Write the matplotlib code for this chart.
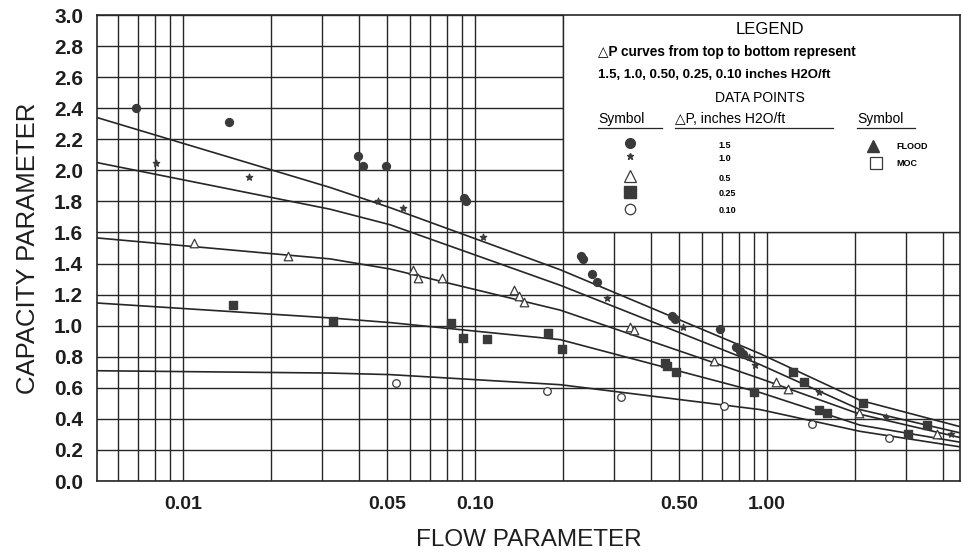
import numpy as np
import matplotlib
matplotlib.use("Agg")
import matplotlib.pyplot as plt
from matplotlib.ticker import LogLocator, FixedLocator, NullFormatter
from matplotlib.patches import Rectangle

plt.rcParams['font.family'] = ['Liberation Sans', 'DejaVu Sans']

# fitted dP curves (inches H2O/ft)
curve_x = [0.00508, 0.0319, 0.0512, 0.196, 0.946, 2.08, 4.58]
curve_15 = [2.34, 1.89, 1.76, 1.36, 0.82, 0.52, 0.35]
curve_10 = [2.05, 1.75, 1.65, 1.26, 0.75, 0.46, 0.31]
curve_05 = [1.565, 1.43, 1.365, 1.10, 0.66, 0.43, 0.28]
curve_025 = [1.146, 1.05, 1.02, 0.91, 0.57, 0.36, 0.25]
curve_010 = [0.71, 0.695, 0.685, 0.62, 0.46, 0.32, 0.22]

# data points
circ_x = [0.0069, 0.0144, 0.0397, 0.0413, 0.0496, 0.0917, 0.0931, 0.231, 0.234,
          0.252, 0.262, 0.473, 0.484, 0.690, 0.783, 0.809, 0.828]
circ_y = [2.40, 2.31, 2.09, 2.03, 2.03, 1.82, 1.80, 1.45, 1.43,
          1.33, 1.28, 1.06, 1.04, 0.98, 0.86, 0.84, 0.82]

star_x = [0.0081, 0.0168, 0.0465, 0.0567, 0.1065, 0.283, 0.516, 0.867, 0.910,
          1.51, 2.56, 4.27]
star_y = [2.05, 1.96, 1.80, 1.76, 1.57, 1.18, 0.99, 0.80, 0.75, 0.57, 0.41, 0.30]

tri_x = [0.0109, 0.0229, 0.0613, 0.0638, 0.0771, 0.136, 0.1415, 0.147, 0.340,
         0.351, 0.658, 1.07, 1.18, 2.07, 3.82]
tri_y = [1.53, 1.45, 1.36, 1.31, 1.31, 1.23, 1.19, 1.15, 0.99,
         0.97, 0.77, 0.64, 0.59, 0.44, 0.30]

sq_x = [0.0148, 0.0326, 0.0828, 0.091, 0.110, 0.178, 0.199, 0.448, 0.455,
        0.488, 0.902, 1.23, 1.34, 1.51, 1.60, 2.13, 3.04, 3.53]
sq_y = [1.13, 1.03, 1.02, 0.92, 0.915, 0.95, 0.85, 0.76, 0.74,
        0.70, 0.57, 0.70, 0.64, 0.46, 0.44, 0.50, 0.30, 0.36]

ocirc_x = [0.0536, 0.177, 0.316, 0.713, 1.43, 2.62]
ocirc_y = [0.63, 0.58, 0.54, 0.48, 0.37, 0.28]

xtick_vals = [0.01, 0.05, 0.10, 0.50, 1.00]
xtick_labels = ['0.01', '0.05', '0.10', '0.50', '1.00']
legend_dp = ['1.5', '1.0', '0.5', '0.25', '0.10']

ink = '#262626'
mk = '#3a3a3a'

fig = plt.figure(figsize=(9.63, 5.52), dpi=100)
ax = fig.add_axes([0.1007, 0.1286, 0.8962, 0.8442])
ax.set_xscale('log')
ax.set_xlim(0.00508, 4.58)
ax.set_ylim(0, 3.0)

# log paper grid
ax.xaxis.set_major_locator(FixedLocator(xtick_vals))
ax.set_xticklabels(xtick_labels)
ax.xaxis.set_minor_locator(LogLocator(base=10, subs=np.arange(1, 10), numticks=20))
ax.xaxis.set_minor_formatter(NullFormatter())
ax.set_yticks(np.arange(0, 3.01, 0.2))
ax.set_yticklabels([f'{v:.1f}' for v in np.arange(0, 3.01, 0.2)])
ax.set_axisbelow(True)
ax.grid(True, which='both', axis='x', color=ink, lw=1.0)
ax.grid(True, which='major', axis='y', color=ink, lw=1.0)
ax.tick_params(which='both', length=0)
ax.tick_params(axis='x', pad=11, labelsize=14)
ax.tick_params(axis='y', pad=10, labelsize=15)
for lab in ax.get_xticklabels() + ax.get_yticklabels():
    lab.set_fontweight('bold')
    lab.set_color('#1e1e1e')
for sp in ax.spines.values():
    sp.set_color(ink)
    sp.set_linewidth(1.2)

# blank legend panel in the top right
ax.add_patch(Rectangle((0.2, 1.6), 10, 2, facecolor='white', edgecolor=ink,
                       lw=1.0, zorder=1))

for cy in [curve_15, curve_10, curve_05, curve_025, curve_010]:
    ax.plot(curve_x, cy, color=ink, lw=1.2, zorder=2)

ax.scatter(circ_x, circ_y, s=32, marker='o', color=mk, zorder=3)
ax.scatter(star_x, star_y, s=22, marker='*', color=mk, zorder=3)
ax.scatter(tri_x, tri_y, s=38, marker='^', facecolor='white', edgecolor=mk, lw=0.9, zorder=3)
ax.scatter(sq_x, sq_y, s=28, marker='s', color=mk, zorder=3)
ax.scatter(ocirc_x, ocirc_y, s=30, marker='o', facecolor='white', edgecolor=mk, lw=0.9, zorder=3)

ax.set_xlabel('FLOW PARAMETER', fontsize=17.5, color='#1e1e1e', labelpad=11)
ax.set_ylabel('CAPACITY PARAMETER', fontsize=18.5, color='#1e1e1e', labelpad=10)

# legend text
tr = ax.transAxes
ax.text(0.780, 0.968, 'LEGEND', transform=tr, ha='center', va='center', fontsize=12)
ax.text(0.5805, 0.921, '\u25b3P curves from top to bottom represent', transform=tr,
        ha='left', va='center', fontsize=9.8, fontweight='bold')
ax.text(0.5805, 0.871, '1.5, 1.0, 0.50, 0.25, 0.10 inches H2O/ft', transform=tr,
        ha='left', va='center', fontsize=9.5, fontweight='bold')
ax.text(0.768, 0.822, 'DATA POINTS', transform=tr, ha='center', va='center', fontsize=10)
ax.text(0.5805, 0.777, 'Symbol', transform=tr, ha='left', va='center', fontsize=10)
ax.text(0.670, 0.777, '\u25b3P, inches H2O/ft', transform=tr, ha='left', va='center',
        fontsize=10)
ax.text(0.881, 0.777, 'Symbol', transform=tr, ha='left', va='center', fontsize=10)
for x0, x1 in [(0.5805, 0.655), (0.670, 0.853), (0.881, 0.948)]:
    ax.plot([x0, x1], [0.758, 0.758], transform=tr, color=ink, lw=0.9, zorder=4)

sym_y = [0.725, 0.697, 0.654, 0.620, 0.584]
sym_style = [dict(marker='o', ms=7, color=mk),
             dict(marker='*', ms=5, color=mk),
             dict(marker='^', ms=8, mfc='white', mec=mk, mew=0.9),
             dict(marker='s', ms=8, color=mk),
             dict(marker='o', ms=7.5, mfc='white', mec=mk, mew=0.9)]
for yy, st, lab in zip(sym_y, sym_style, legend_dp):
    ax.plot([0.6176], [yy], transform=tr, ls='none', zorder=4, **st)
    ax.text(0.720, yy - 0.004, lab, transform=tr, ha='left', va='center',
            fontsize=6.5, fontweight='bold')

ax.plot([0.899], [0.719], transform=tr, ls='none', marker='^', ms=8, color=mk, zorder=4)
ax.text(0.926, 0.717, 'FLOOD', transform=tr, ha='left', va='center', fontsize=6.5, fontweight='bold')
ax.plot([0.903], [0.682], transform=tr, ls='none', marker='s', ms=8, mfc='white', mec=mk,
        mew=0.9, zorder=4)
ax.text(0.926, 0.682, 'MOC', transform=tr, ha='left', va='center', fontsize=6.5, fontweight='bold')

fig.savefig('out.png', dpi=100)
